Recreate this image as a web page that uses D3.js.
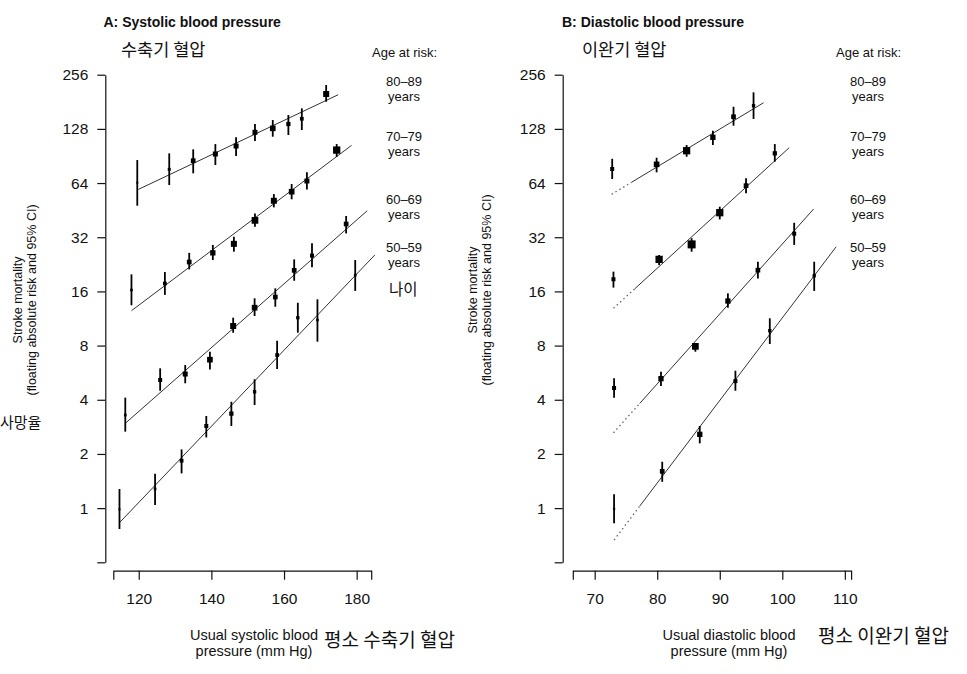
<!DOCTYPE html>
<html><head><meta charset="utf-8">
<script src="https://cdn.jsdelivr.net/npm/d3@7"></script>
<style>
body{margin:0;background:#fff}
text{font-family:"Liberation Sans",Arial,sans-serif;fill:#111}
.kr{font-family:"Noto Sans CJK KR","Noto Sans CJK SC",sans-serif;fill:#111}
</style></head><body>
<svg id="chart" width="967" height="674"></svg>
<script>
const ageGroups = ["80–89", "70–79", "60–69", "50–59"];
const yTicks = [0.5, 1, 2, 4, 8, 16, 32, 64, 128, 256];
const sbpTicks = [120, 140, 160, 180];
const dbpTicks = [70, 80, 90, 100, 110];

// [usual SBP, stroke mortality, lower 95% CI, upper 95% CI, weight]
const sbp80 = [
  [119.6, 64.3, 47.9, 85.9, 4], [128.4, 76.3, 62.4, 93.6, 9], [135.0, 85.2, 72.5, 98.5, 22],
  [141.1, 92.8, 80.6, 105.4, 25], [146.8, 102.8, 90.4, 114.9, 25], [152.0, 122.5, 109.6, 136.2, 25],
  [156.9, 128.9, 115.8, 143.3, 32], [161.2, 136.2, 118.3, 152.8, 18], [164.9, 145.7, 126.1, 166.5, 14],
  [171.6, 199.9, 181.1, 224.3, 36]
];
const sbp70 = [
  [118.0, 16.3, 13.4, 19.9, 7], [127.2, 17.7, 15.3, 20.5, 14], [133.9, 23.3, 21.2, 26.2, 22],
  [140.4, 26.2, 23.9, 29.0, 28], [146.2, 29.4, 26.6, 32.2, 36], [152.0, 39.7, 36.6, 43.4, 45],
  [157.2, 51.0, 46.9, 55.6, 36], [162.1, 57.3, 52.0, 63.2, 32], [166.3, 65.7, 59.0, 73.4, 25],
  [174.5, 97.6, 89.6, 105.4, 53]
];
const sbp60 = [
  [116.3, 3.29, 2.66, 4.11, 7], [125.9, 5.15, 4.49, 5.98, 16], [132.8, 5.56, 4.94, 6.24, 25],
  [139.6, 6.68, 5.90, 7.40, 32], [146.0, 10.28, 9.43, 11.43, 36], [151.9, 12.99, 11.68, 14.64, 32],
  [157.6, 14.89, 13.15, 16.64, 22], [162.8, 20.95, 18.34, 24.1, 22], [167.7, 25.3, 21.8, 29.6, 16],
  [177.1, 37.9, 33.6, 42.0, 22]
];
const sbp50 = [
  [114.7, 0.985, 0.765, 1.277, 4], [124.5, 1.277, 1.04, 1.553, 7], [131.8, 1.834, 1.56, 2.12, 14],
  [138.6, 2.86, 2.47, 3.25, 16], [145.5, 3.35, 2.86, 3.90, 18], [151.9, 4.43, 3.74, 5.20, 11],
  [158.1, 7.09, 5.93, 8.51, 14], [163.8, 11.43, 9.43, 13.84, 11], [169.2, 11.1, 8.41, 14.46, 7],
  [179.6, 19.7, 16.1, 23.9, 7]
];
// [usual DBP, stroke mortality, lower 95% CI, upper 95% CI, weight]
const dbp80 = [
  [72.8, 76.6, 67.4, 87.3, 16], [79.9, 81.3, 73.4, 88.5, 32], [84.7, 96.8, 89.6, 104.1, 53],
  [88.9, 114.9, 104.1, 125.0, 28], [92.2, 149.5, 133.3, 169.9, 22], [95.4, 172.1, 145.2, 204.3, 11]
];
const dbp70 = [
  [73.0, 18.7, 16.8, 20.6, 16], [80.3, 24.1, 22.4, 25.5, 53], [85.5, 29.2, 26.6, 31.6, 64],
  [90.0, 43.8, 40.2, 47.3, 53], [94.2, 61.9, 56.1, 68.0, 22], [98.8, 93.6, 84.1, 105.4, 18]
];
const dbp60 = [
  [73.1, 4.65, 4.11, 5.26, 16], [80.6, 5.24, 4.77, 5.73, 28], [86.1, 7.92, 7.40, 8.24, 45],
  [91.3, 14.15, 12.99, 15.61, 28], [96.1, 21.0, 18.9, 23.4, 22], [101.9, 33.5, 29.0, 38.5, 16]
];
const dbp50 = [
  [73.1, 0.99, 0.823, 1.193, 5], [80.8, 1.601, 1.40, 1.81, 22], [86.8, 2.57, 2.29, 2.86, 28],
  [92.5, 5.08, 4.49, 5.80, 16], [98.0, 9.68, 8.16, 11.34, 11], [105.1, 19.55, 16.1, 23.4, 11]
];
// fitted lines: [x start, y start, x end, y end]
const sbpFits = [[119.9, 59.0, 174.9, 198.1], [118.0, 12.5, 178.6, 103.7], [116.3, 2.96, 182.9, 44.9], [114.7, 0.83, 185.0, 25.5]];
const dbpFits = [[72.7, 55.4, 97.0, 178.8], [73.0, 12.9, 101.1, 100.6], [73.0, 2.62, 105.0, 45.9], [73.1, 0.665, 108.6, 28.3]];
const dbpExtrapolatedTo = [75.9, 76.4, 77.2, 77.2];

const svg = d3.select("#chart");
const sizeScale = d3.scaleSqrt().domain([0, 64]).range([0, 8]);

function drawPanel(o) {
  const g = svg.append("g");
  const x = d3.scaleLinear().domain(o.xDomain).range(o.xRange);
  const y = d3.scaleLog().base(2).domain([0.5, 256]).range([562.3, 74.7]);

  const ya = g.append("g").attr("transform", `translate(${o.yAxisX},0)`)
    .call(d3.axisLeft(y).tickValues(yTicks).tickSize(8).tickSizeOuter(0).tickPadding(9)
      .tickFormat(d => d >= 1 ? d : ""));
  const xa = g.append("g").attr("transform", "translate(0,570.7)")
    .call(d3.axisBottom(x).tickValues(o.xTicks).tickSize(9).tickSizeOuter(9).tickPadding(13));
  [ya, xa].forEach(a => {
    a.selectAll("path,line").attr("stroke", "#111").attr("stroke-width", 1.2);
    a.selectAll("text").style("font-size", "15.5px").attr("fill", "#111");
  });

  const line = d3.line().x(d => x(d[0])).y(d => y(d[1]));
  o.fits.forEach((f, i) => {
    if (o.dashTo) {
      const t = (o.dashTo[i] - f[0]) / (f[2] - f[0]);
      const ym = Math.exp(Math.log(f[1]) + t * (Math.log(f[3]) - Math.log(f[1])));
      g.append("path").attr("d", line([[f[0], f[1]], [o.dashTo[i], ym]]))
        .attr("stroke", "#666").attr("stroke-width", 1.3).attr("stroke-dasharray", "1.5,3").attr("fill", "none");
      g.append("path").attr("d", line([[o.dashTo[i], ym], [f[2], f[3]]]))
        .attr("stroke", "#333").attr("stroke-width", 1).attr("fill", "none");
    } else {
      g.append("path").attr("d", line([[f[0], f[1]], [f[2], f[3]]]))
        .attr("stroke", "#333").attr("stroke-width", 1).attr("fill", "none");
    }
  });

  o.series.forEach(s => {
    g.selectAll(null).data(s).join("line")
      .attr("x1", d => x(d[0])).attr("x2", d => x(d[0]))
      .attr("y1", d => y(d[2])).attr("y2", d => y(d[3]))
      .attr("stroke", "#000").attr("stroke-width", 1.8);
    g.selectAll(null).data(s).join("rect")
      .attr("x", d => x(d[0]) - sizeScale(d[4]) / 2)
      .attr("y", d => y(d[1]) - sizeScale(d[4]) / 2)
      .attr("width", d => sizeScale(d[4])).attr("height", d => sizeScale(d[4]))
      .attr("fill", "#000");
  });

  g.append("text").attr("x", o.titleX).attr("y", 26.5).text(o.title)
    .style("font-weight", "bold").style("font-size", "14px");
  g.append("text").attr("class", "kr").attr("x", o.krTitleX).attr("y", 55.5).text(o.krTitle)
    .style("font-size", "17.5px");
  g.append("text").attr("x", o.ageX - 32).attr("y", 57).text("Age at risk:").style("font-size", "13px");
  const ageY = [86, 141.2, 204, 252.2];
  ageGroups.forEach((a, i) => {
    g.append("text").attr("x", o.ageX).attr("y", ageY[i]).attr("text-anchor", "middle")
      .text(a).style("font-size", "13px");
    g.append("text").attr("x", o.ageX).attr("y", ageY[i] + 15).attr("text-anchor", "middle")
      .text("years").style("font-size", "13px");
  });

  const yl = g.append("g").attr("transform", `translate(${o.yLabelX},${o.yLabelY}) rotate(-90)`);
  yl.append("text").attr("text-anchor", "middle").attr("y", 0).text("Stroke mortality").style("font-size", "12.5px");
  yl.append("text").attr("text-anchor", "middle").attr("y", 14).text("(floating absolute risk and 95% CI)").style("font-size", "12.5px");

  g.append("text").attr("x", o.xLabelX).attr("y", 640).attr("text-anchor", "middle")
    .text(o.xLabel1).style("font-size", "14.5px");
  g.append("text").attr("x", o.xLabelX).attr("y", 656).attr("text-anchor", "middle")
    .text("pressure (mm Hg)").style("font-size", "14.5px");
  g.append("text").attr("class", "kr").attr("x", o.krXLabelX).attr("y", o.krXLabelY)
    .text(o.krXLabel).style("font-size", "19px");
}

drawPanel({
  xDomain: [113, 184], xRange: [113.3, 371.2], xTicks: sbpTicks, yAxisX: 105.3,
  series: [sbp80, sbp70, sbp60, sbp50], fits: sbpFits,
  title: "A: Systolic blood pressure", titleX: 103.5, krTitle: "수축기 혈압", krTitleX: 121,
  ageX: 404, yLabelX: 22, yLabelY: 300,
  xLabelX: 254, xLabel1: "Usual systolic blood", krXLabel: "평소 수축기 혈압", krXLabelX: 324, krXLabelY: 647
});
drawPanel({
  xDomain: [66.5, 111], xRange: [572.8, 851.1], xTicks: dbpTicks, yAxisX: 562.7,
  series: [dbp80, dbp70, dbp60, dbp50], fits: dbpFits, dashTo: dbpExtrapolatedTo,
  title: "B: Diastolic blood pressure", titleX: 562, krTitle: "이완기 혈압", krTitleX: 582,
  ageX: 868, yLabelX: 477, yLabelY: 290,
  xLabelX: 729, xLabel1: "Usual diastolic blood", krXLabel: "평소 이완기 혈압", krXLabelX: 818, krXLabelY: 643
});

svg.append("text").attr("class", "kr").attr("x", 389).attr("y", 295).text("나이").style("font-size", "15.5px");
svg.append("text").attr("class", "kr").attr("x", 0).attr("y", 428).text("사망율").style("font-size", "15px");
</script>
</body></html>
